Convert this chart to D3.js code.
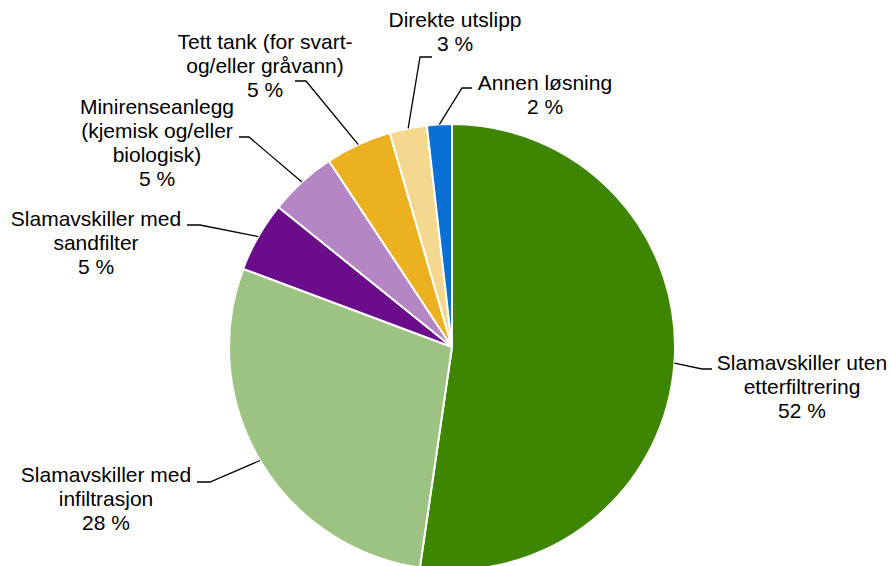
<!DOCTYPE html>
<html>
<head>
<meta charset="utf-8">
<script src="https://cdn.jsdelivr.net/npm/d3@7/dist/d3.min.js"></script>
<style>
  body { margin: 0; background: #fff; }
  text { font-family: "Liberation Sans", Arial, sans-serif; fill: #000; }
</style>
</head>
<body>
<svg id="chart" width="891" height="566"></svg>
<script>
// data (percent)
const categories = [
  "Slamavskiller uten etterfiltrering",
  "Slamavskiller med infiltrasjon",
  "Slamavskiller med sandfilter",
  "Minirenseanlegg (kjemisk og/eller biologisk)",
  "Tett tank (for svart- og/eller gråvann)",
  "Direkte utslipp",
  "Annen løsning"
];
const values = [52.3, 28.4, 5.1, 4.9, 4.8, 2.7, 1.8];
const pctLabels = ["52 %", "28 %", "5 %", "5 %", "5 %", "3 %", "2 %"];
const labelLines = [
  ["Slamavskiller uten", "etterfiltrering"],
  ["Slamavskiller med", "infiltrasjon"],
  ["Slamavskiller med", "sandfilter"],
  ["Minirenseanlegg", "(kjemisk og/eller", "biologisk)"],
  ["Tett tank (for svart-", "og/eller gråvann)"],
  ["Direkte utslipp"],
  ["Annen løsning"]
];
const colors = ["#3f8600", "#9cc381", "#6b0c8a", "#b586c4", "#ebb121", "#f5d88f", "#0b70d3"];

// label placement: text centre x, first baseline y, leader elbow and end
const layout = [
  {x: 802, y: 370, elbow: [702, 369], end: [712, 369]},
  {x: 106, y: 482, elbow: [210, 482], end: [197, 482]},
  {x: 96,  y: 226, elbow: [200, 225], end: [187, 225]},
  {x: 157, y: 114, elbow: [249, 137], end: [239, 137]},
  {x: 265, y: 49,  elbow: [306, 81],  end: [295, 81]},
  {x: 455, y: 27,  elbow: [420, 57],  end: [432, 57]},
  {x: 545, y: 90,  elbow: [462, 88],  end: [472, 88]}
];

const svg = d3.select("#chart");
const cx = 452, cy = 347, r = 223;
const lineH = 24;

const data = categories.map((c, i) => ({name: c, value: values[i], i: i}));
const pie = d3.pie().value(d => d.value).sort(null);
const arcs = pie(data);
const arc = d3.arc().innerRadius(0).outerRadius(r);

const g = svg.append("g").attr("transform", `translate(${cx},${cy})`);
g.selectAll("path")
  .data(arcs)
  .join("path")
  .attr("d", arc)
  .attr("fill", d => colors[d.data.i])
  .attr("stroke", "#fff")
  .attr("stroke-width", 2);

// leader lines
svg.append("g")
  .selectAll("polyline")
  .data(arcs)
  .join("polyline")
  .attr("fill", "none")
  .attr("stroke", "#000")
  .attr("stroke-width", 1.3)
  .attr("points", d => {
    const a = (d.startAngle + d.endAngle) / 2;
    const p0 = [cx + r * Math.sin(a), cy - r * Math.cos(a)];
    const L = layout[d.data.i];
    return [p0, L.elbow, L.end].map(p => p.join(",")).join(" ");
  });

// labels
const labels = svg.append("g")
  .selectAll("text")
  .data(arcs)
  .join("text")
  .attr("text-anchor", "middle")
  .attr("font-size", "21px")
  .attr("x", d => layout[d.data.i].x)
  .attr("y", d => layout[d.data.i].y);

labels.each(function(d) {
  const t = d3.select(this);
  const L = layout[d.data.i];
  const lines = labelLines[d.data.i].concat([pctLabels[d.data.i]]);
  lines.forEach((s, k) => {
    t.append("tspan").attr("x", L.x).attr("y", L.y + k * lineH).text(s);
  });
});
</script>
</body>
</html>
